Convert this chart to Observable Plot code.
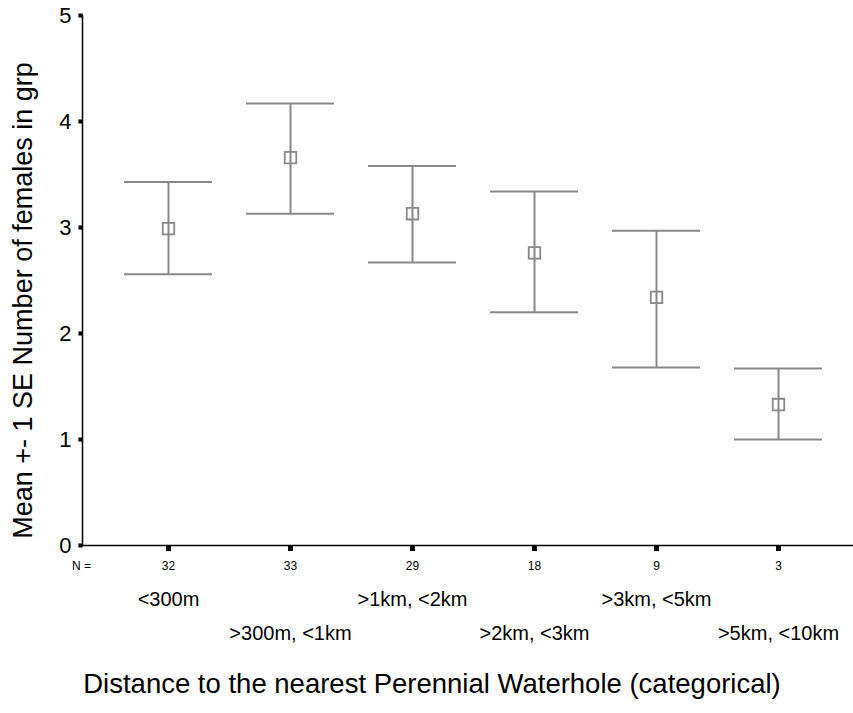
<!DOCTYPE html>
<html>
<head>
<meta charset="utf-8">
<script src="https://cdn.jsdelivr.net/npm/d3@7"></script>
<script src="https://cdn.jsdelivr.net/npm/@observablehq/plot@0.6"></script>
<style>
  html, body { margin: 0; padding: 0; background: #fff; }
</style>
</head>
<body>
<div id="chart"></div>
<script>
const categories = ["<300m", ">300m, <1km", ">1km, <2km", ">2km, <3km", ">3km, <5km", ">5km, <10km"];
const nCounts = [32, 33, 29, 18, 9, 3];
const means = [2.99, 3.66, 3.13, 2.76, 2.34, 1.33];
const lower = [2.56, 3.13, 2.67, 2.20, 1.68, 1.00];
const upper = [3.43, 4.17, 3.58, 3.34, 2.97, 1.67];
const yTicks = [0, 1, 2, 3, 4, 5];
const yTitle = "Mean +- 1 SE Number of females in grp";
const xTitle = "Distance to the nearest Perennial Waterhole (categorical)";

const data = categories.map((c, i) => ({cat: c, n: nCounts[i], mean: means[i], lo: lower[i], hi: upper[i]}));
const grey = "#888888";

const chart = Plot.plot({
  width: 853,
  height: 713,
  marginTop: 15,
  marginBottom: 168,
  marginLeft: 82,
  marginRight: 0,
  style: {fontFamily: "'Liberation Sans', Arial, sans-serif", background: "#fff", color: "#000"},
  x: {type: "band", domain: categories, range: [105.1, 842.1], paddingInner: 0.2755, paddingOuter: 0.13775},
  y: {domain: [0, 5]},
  marks: [
    Plot.ruleY([0], {stroke: "#000", strokeWidth: 1.5}),
    Plot.frame({anchor: "left", stroke: "#000", strokeWidth: 1.5}),
    Plot.axisY({ticks: yTicks, tickSize: 0, tickPadding: 11, fontSize: 22, label: null, tickFormat: d3.format("d")}),
    Plot.dot(yTicks, {y: d => d, frameAnchor: "left", dx: -2, symbol: "square", r: 2.3, fill: "#000", stroke: null}),
    Plot.axisX({tickSize: 0, tickPadding: 16, fontSize: 12, label: null,
      tickFormat: (d) => nCounts[categories.indexOf(d)]}),
    Plot.dot(categories, {x: d => d, frameAnchor: "bottom", dy: 3, symbol: "square", r: 2.8, fill: "#000", stroke: null}),
    Plot.text(["N ="], {frameAnchor: "bottom-left", dx: -1, dy: 21, fontSize: 12, lineAnchor: "middle", textAnchor: "middle"}),
    Plot.text(categories.filter((_, i) => i % 2 === 0), {x: d => d, text: d => d, frameAnchor: "bottom", dy: 54, fontSize: 20, lineAnchor: "middle", textAnchor: "middle"}),
    Plot.text(categories.filter((_, i) => i % 2 === 1), {x: d => d, text: d => d, frameAnchor: "bottom", dy: 88, fontSize: 20, lineAnchor: "middle", textAnchor: "middle"}),
    Plot.text([xTitle], {frameAnchor: "bottom", dx: -36, dy: 139, fontSize: 27.5, lineAnchor: "middle", textAnchor: "middle"}),
    Plot.text([yTitle], {frameAnchor: "left", rotate: -90, dx: -59, dy: 20, fontSize: 27, lineAnchor: "middle", textAnchor: "middle"}),
    Plot.ruleX(data, {x: "cat", y1: "lo", y2: "hi", stroke: grey, strokeWidth: 2}),
    Plot.tickY(data, {x: "cat", y: "hi", stroke: grey, strokeWidth: 2}),
    Plot.tickY(data, {x: "cat", y: "lo", stroke: grey, strokeWidth: 2}),
    Plot.dot(data, {x: "cat", y: "mean", symbol: "square", r: 6.5, stroke: grey, strokeWidth: 1.8, fill: "none"})
  ]
});
document.getElementById("chart").appendChild(chart);
</script>
</body>
</html>
